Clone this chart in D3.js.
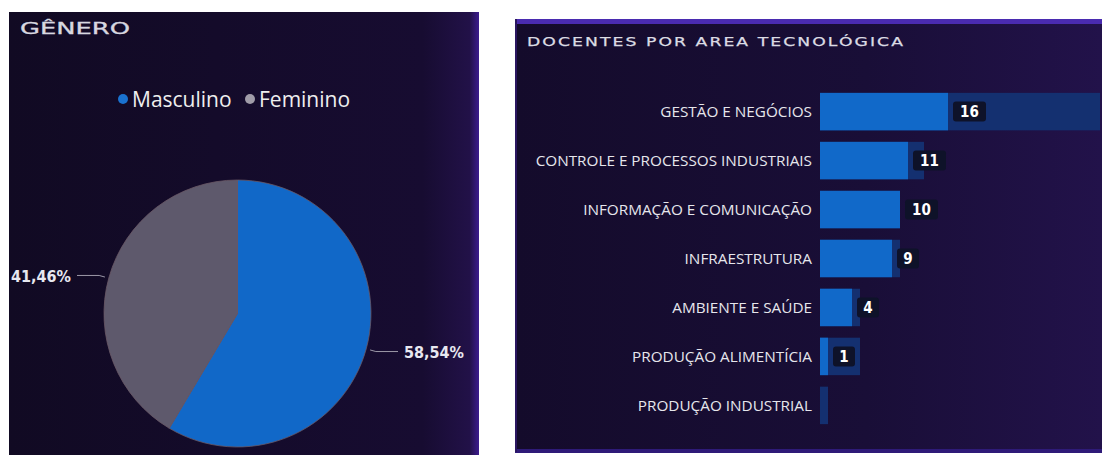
<!DOCTYPE html>
<html>
<head>
<meta charset="utf-8">
<script src="https://cdn.jsdelivr.net/npm/d3@7"></script>
<style>
  html, body { margin: 0; padding: 0; background: #ffffff; }
  svg { display: block; }
</style>
</head>
<body>
<div id="chart"></div>
<script>
const width = 1102, height = 455;

// dados
const generos = ["Masculino", "Feminino"];
const percentuais = [58.54, 41.46];
const coresGenero = ["#1168c8", "#5e596c"];

const categorias = [
  "GESTÃO E NEGÓCIOS",
  "CONTROLE E PROCESSOS INDUSTRIAIS",
  "INFORMAÇÃO E COMUNICAÇÃO",
  "INFRAESTRUTURA",
  "AMBIENTE E SAÚDE",
  "PRODUÇÃO ALIMENTÍCIA",
  "PRODUÇÃO INDUSTRIAL"
];
const docentes = [16, 11, 10, 9, 4, 1, 0];
const fundo = [35, 13, 10, 10, 5, 5, 1];

const svg = d3.select("#chart")
  .append("svg")
  .attr("width", width)
  .attr("height", height);

const defs = svg.append("defs");

// gradientes dos painéis
const gEsq = defs.append("linearGradient").attr("id", "bgEsq")
  .attr("x1", "0").attr("y1", "0").attr("x2", "1").attr("y2", "0");
gEsq.append("stop").attr("offset", "0%").attr("stop-color", "#110a23");
gEsq.append("stop").attr("offset", "88%").attr("stop-color", "#170c31");
gEsq.append("stop").attr("offset", "98%").attr("stop-color", "#221148");
gEsq.append("stop").attr("offset", "100%").attr("stop-color", "#3c1c8e");

const gDir = defs.append("linearGradient").attr("id", "bgDir")
  .attr("x1", "0").attr("y1", "0").attr("x2", "1").attr("y2", "0");
gDir.append("stop").attr("offset", "0%").attr("stop-color", "#140b2b");
gDir.append("stop").attr("offset", "60%").attr("stop-color", "#190e37");
gDir.append("stop").attr("offset", "100%").attr("stop-color", "#22124a");

// ---------- painel gênero ----------
svg.append("rect")
  .attr("x", 9).attr("y", 12)
  .attr("width", 470).attr("height", 443)
  .attr("fill", "url(#bgEsq)");

svg.append("text")
  .attr("x", 20).attr("y", 34)
  .attr("textLength", 110).attr("lengthAdjust", "spacingAndGlyphs")
  .attr("font-family", "DejaVu Sans")
  .attr("font-size", 15)
  .attr("stroke", "#d8d8e0").attr("stroke-width", 0.3)
  .attr("fill", "#d8d8e0")
  .text("GÊNERO");

// legenda
const legenda = svg.append("g").attr("font-family", "Open Sans").attr("font-size", 21).attr("fill", "#eeeeee");
const legX = [123, 250];
generos.forEach((g, i) => {
  legenda.append("circle")
    .attr("cx", legX[i]).attr("cy", 99).attr("r", 5)
    .attr("fill", i === 0 ? "#1a72d0" : "#a09ca8");
  legenda.append("text")
    .attr("x", legX[i] + 9).attr("y", 107)
    .text(g);
});

// pizza
const cx = 237.5, cy = 313.5, r = 133.5;
const pie = d3.pie().sort(null).value(d => d);
const arc = d3.arc().innerRadius(0).outerRadius(r);
const arcs = pie(percentuais);

const gPie = svg.append("g").attr("transform", `translate(${cx},${cy})`);
gPie.selectAll("path")
  .data(arcs)
  .enter()
  .append("path")
  .attr("d", arc)
  .attr("fill", (d, i) => coresGenero[i])
  .attr("stroke", "#6a5866")
  .attr("stroke-width", 0.8);

const fmt = v => d3.format(".2f")(v).replace(".", ",") + "%";

arcs.forEach((d) => {
  const a = (d.startAngle + d.endAngle) / 2;
  const s = Math.sin(a), c = -Math.cos(a);
  const p1 = [s * (r + 4), c * (r + 4)];
  const p2 = [s * (r + 10), c * (r + 10)];
  const lado = s > 0 ? 1 : -1;
  const p3 = [lado * (r + 27), p2[1]];
  gPie.append("polyline")
    .attr("points", [p1, p2, p3].map(p => p.join(",")).join(" "))
    .attr("fill", "none")
    .attr("stroke", "#9c98a8")
    .attr("stroke-width", 1);
  gPie.append("text")
    .attr("x", p3[0] + lado * 6)
    .attr("y", p3[1] + 1)
    .attr("dy", "0.35em")
    .attr("text-anchor", lado > 0 ? "start" : "end")
    .attr("font-family", "DejaVu Sans Condensed")
    .attr("font-weight", "bold")
    .attr("font-size", 16)
    .attr("fill", "#e8e8f0")
    .text(fmt(d.data));
});

// ---------- painel área tecnológica ----------
svg.append("rect")
  .attr("x", 515).attr("y", 19)
  .attr("width", 587).attr("height", 433)
  .attr("fill", "url(#bgDir)");
svg.append("rect")
  .attr("x", 515).attr("y", 19)
  .attr("width", 587).attr("height", 5)
  .attr("fill", "#4a2bb0");
svg.append("rect")
  .attr("x", 515).attr("y", 449)
  .attr("width", 587).attr("height", 4)
  .attr("fill", "#2e1a78");
svg.append("rect")
  .attr("x", 515).attr("y", 19)
  .attr("width", 2).attr("height", 433)
  .attr("fill", "#2a1660");

svg.append("text")
  .attr("x", 527).attr("y", 46)
  .attr("textLength", 378).attr("lengthAdjust", "spacingAndGlyphs")
  .attr("letter-spacing", 1.5)
  .attr("font-family", "DejaVu Sans")
  .attr("font-size", 12.5)
  .attr("stroke", "#dcdce4").attr("stroke-width", 0.25)
  .attr("fill", "#dcdce4")
  .text("DOCENTES POR AREA TECNOLÓGICA");

const y = d3.scaleBand()
  .domain(categorias)
  .range([87, 430])
  .paddingInner(0.235)
  .paddingOuter(0.12);

const x = d3.scaleLinear()
  .domain([0, 35])
  .range([820, 1100]);

const linhas = categorias.map((c, i) => ({ cat: c, v: docentes[i], f: fundo[i] }));

svg.append("g").selectAll("rect")
  .data(linhas)
  .enter()
  .append("rect")
  .attr("x", x(0))
  .attr("y", d => y(d.cat))
  .attr("width", d => x(d.f) - x(0))
  .attr("height", y.bandwidth())
  .attr("fill", "#143070");

svg.append("g").selectAll("rect")
  .data(linhas)
  .enter()
  .append("rect")
  .attr("x", x(0))
  .attr("y", d => y(d.cat))
  .attr("width", d => x(d.v) - x(0))
  .attr("height", y.bandwidth())
  .attr("fill", "#1169c9");

// rótulos das categorias
svg.append("g").selectAll("text")
  .data(linhas)
  .enter()
  .append("text")
  .attr("x", 812)
  .attr("y", d => y(d.cat) + y.bandwidth() / 2)
  .attr("dy", "0.35em")
  .attr("text-anchor", "end")
  .attr("font-family", "Open Sans")
  .attr("font-size", 15.3)
  .attr("fill", "#e6e6ec")
  .text(d => d.cat);

// rótulos dos valores
const rot = svg.append("g").selectAll("g")
  .data(linhas.filter(d => d.v > 0))
  .enter()
  .append("g")
  .attr("transform", d => `translate(${x(d.v) + 5},${y(d.cat) + y.bandwidth() / 2})`);

rot.append("rect")
  .attr("x", 0).attr("y", -10)
  .attr("width", d => String(d.v).length > 1 ? 33 : 22)
  .attr("height", 20)
  .attr("rx", 3)
  .attr("fill", "#0e1229");

rot.append("text")
  .attr("x", d => (String(d.v).length > 1 ? 33 : 22) / 2)
  .attr("dy", "0.36em")
  .attr("text-anchor", "middle")
  .attr("font-family", "DejaVu Sans Condensed")
  .attr("font-weight", "bold")
  .attr("font-size", 15)
  .attr("fill", "#ffffff")
  .text(d => d.v);
</script>
</body>
</html>
